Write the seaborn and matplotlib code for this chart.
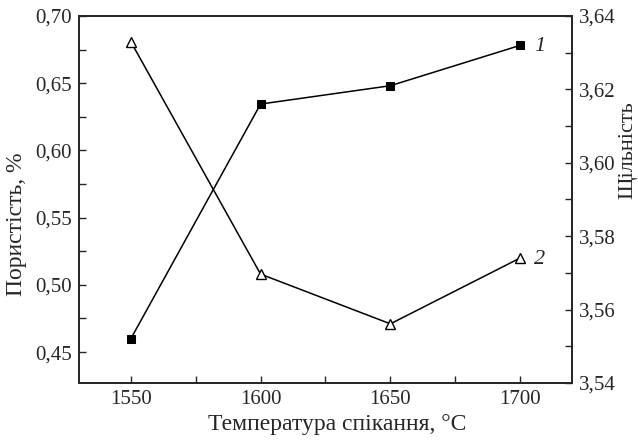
import numpy as np
import pandas as pd
import seaborn as sns
import matplotlib.pyplot as plt
from matplotlib.ticker import MultipleLocator, FuncFormatter

# data
temps = [1550, 1600, 1650, 1700]
density = [3.552, 3.616, 3.621, 3.632]      # curve 1, right axis
porosity = [0.681, 0.508, 0.471, 0.520]     # curve 2, left axis

df = pd.DataFrame({'T': temps, 'density': density, 'porosity': porosity})

sns.set_style('ticks')
plt.rcParams['font.family'] = ['Liberation Serif', 'DejaVu Serif']
plt.rcParams['font.size'] = 15

fig = plt.figure(figsize=(6.38, 4.44), dpi=100)
ax = fig.add_axes([0.1235, 0.1374, 0.7733, 0.8266])
ax2 = ax.twinx()

sns.lineplot(data=df, x='T', y='porosity', ax=ax, color='black', lw=1.1,
             marker='^', markersize=7, markerfacecolor='white',
             markeredgecolor='black', markeredgewidth=1)
sns.lineplot(data=df, x='T', y='density', ax=ax2, color='black', lw=1.1,
             marker='s', markersize=6, markerfacecolor='black',
             markeredgecolor='black')

ax.set_xlim(1530, 1720)
ax.set_ylim(0.427, 0.70)
ax2.set_ylim(3.54, 3.64)

ax.xaxis.set_major_locator(MultipleLocator(50))
ax.xaxis.set_minor_locator(MultipleLocator(25))
ax.yaxis.set_major_locator(MultipleLocator(0.05))
ax.yaxis.set_minor_locator(MultipleLocator(0.025))
ax2.yaxis.set_major_locator(MultipleLocator(0.02))
ax2.yaxis.set_minor_locator(MultipleLocator(0.01))

comma = FuncFormatter(lambda v, p: f'{v:.2f}'.replace('.', ','))
ax.yaxis.set_major_formatter(comma)
ax2.yaxis.set_major_formatter(comma)

for a in (ax, ax2):
    a.tick_params(which='major', direction='in', length=5, width=1, labelsize=15, pad=5)
    a.tick_params(which='minor', direction='in', length=5, width=1)
    for s in a.spines.values():
        s.set_linewidth(1.3)
        s.set_visible(True)
ax.tick_params(axis='x', which='both', top=False)
ax2.tick_params(axis='y', which='both', right=True, left=False)

ax.set_xlabel('Температура спікання, °C', fontsize=17)
ax.xaxis.set_label_coords(0.524, -0.085)
ax.set_ylabel('Пористість, %', fontsize=17)
ax.yaxis.set_label_coords(-0.105, 0.433)
ax2.set_ylabel('Щільність', fontsize=16)
ax2.yaxis.set_label_coords(1.093, 0.635)

ax2.annotate('1', (temps[-1], density[-1]), xytext=(10, -1), textcoords='offset points',
             fontsize=16, style='italic', va='center')
ax.annotate('2', (temps[-1], porosity[-1]), xytext=(10, -1), textcoords='offset points',
            fontsize=16, style='italic', va='center')

fig.savefig('out.png', dpi=100)
